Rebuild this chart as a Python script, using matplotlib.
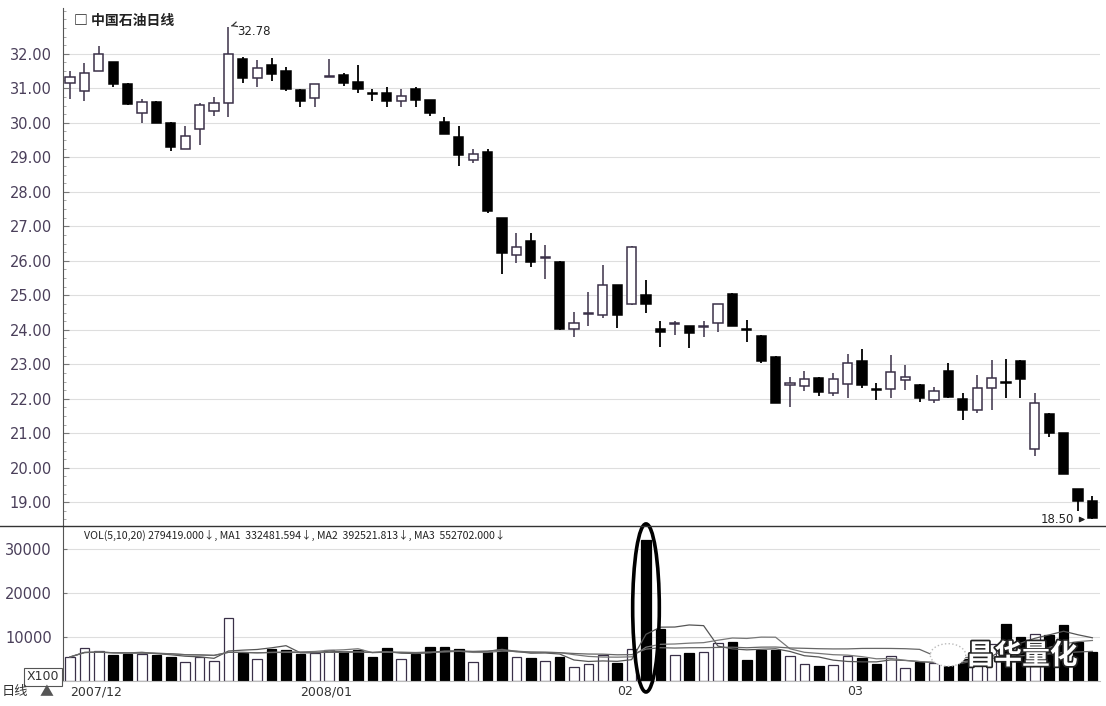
import matplotlib
matplotlib.use('Agg')
import matplotlib.pyplot as plt
import matplotlib.patheffects as pe
from matplotlib.patches import Ellipse, Circle
from matplotlib.lines import Line2D
import numpy as np
import pandas as pd

# daily candles, 2007/12 .. 2008/03
opens = [31.15, 30.92, 31.51, 31.75, 31.14, 30.30, 30.61, 30.01, 29.25, 29.81,
         30.35, 30.58, 31.84, 31.29, 31.67, 31.51, 30.95, 30.71, 31.33, 31.38,
         31.19, 30.87, 30.86, 30.64, 30.97, 30.66, 30.03, 29.58, 28.92, 29.16,
         27.23, 26.17, 26.58, 26.09, 25.97, 24.02, 24.47, 24.43, 25.30, 24.74,
         25.00, 24.01, 24.16, 24.11, 24.08, 24.21, 25.04, 24.03, 23.82, 23.20,
         22.40, 22.37, 22.61, 22.18, 22.42, 23.10, 22.28, 22.29, 22.53, 22.40,
         21.97, 22.81, 22.00, 21.68, 22.31, 22.50, 23.10, 20.55, 21.56, 21.00,
         19.37, 19.03]
highs = [31.50, 31.74, 32.23, 31.76, 31.15, 30.68, 30.62, 30.02, 29.91, 30.58,
         30.76, 32.78, 31.92, 31.82, 31.87, 31.63, 30.97, 31.13, 31.84, 31.44,
         31.67, 30.97, 31.03, 30.97, 31.05, 30.67, 30.18, 29.91, 29.24, 29.23,
         27.24, 26.81, 26.81, 26.45, 25.98, 24.52, 25.10, 25.88, 25.31, 26.42,
         25.44, 24.26, 24.26, 24.12, 24.26, 24.76, 25.08, 24.28, 23.85, 23.25,
         22.64, 22.81, 22.63, 22.74, 23.30, 23.44, 22.47, 23.27, 22.98, 22.42,
         22.35, 23.05, 22.16, 22.69, 23.12, 23.14, 23.12, 22.18, 21.58, 21.01,
         19.38, 19.17]
lows = [30.70, 30.64, 31.50, 31.05, 30.53, 30.00, 30.00, 29.19, 29.24, 29.36,
        30.20, 30.18, 31.16, 31.05, 31.21, 30.93, 30.47, 30.45, 31.33, 31.07,
        30.86, 30.62, 30.47, 30.47, 30.45, 30.20, 29.67, 28.75, 28.83, 27.38,
        25.62, 25.94, 25.83, 25.48, 24.00, 23.80, 24.11, 24.33, 24.04, 24.73,
        24.50, 23.49, 23.85, 23.46, 23.78, 23.95, 24.10, 23.66, 23.05, 21.88,
        21.77, 22.23, 22.09, 22.09, 22.02, 22.32, 21.95, 22.02, 22.26, 21.92,
        21.87, 22.03, 21.37, 21.60, 21.68, 22.02, 22.02, 20.35, 20.89, 19.82,
        18.74, 18.50]
closes = [31.34, 31.45, 31.99, 31.14, 30.54, 30.61, 30.01, 29.29, 29.62, 30.52,
          30.57, 31.99, 31.29, 31.58, 31.41, 30.97, 30.64, 31.12, 31.35, 31.15,
          30.97, 30.85, 30.62, 30.79, 30.66, 30.29, 29.68, 29.07, 29.10, 27.45,
          26.22, 26.41, 25.97, 26.11, 24.02, 24.21, 24.50, 25.30, 24.43, 26.41,
          24.75, 23.94, 24.20, 23.90, 24.10, 24.75, 24.11, 24.00, 23.10, 21.89,
          22.47, 22.56, 22.21, 22.57, 23.05, 22.40, 22.25, 22.77, 22.64, 22.02,
          22.23, 22.04, 21.68, 22.32, 22.60, 22.46, 22.57, 21.89, 21.02, 19.83,
          19.03, 18.55]
volumes = [5450, 7500, 6740, 5980, 6210, 6210, 5980, 5450, 4320, 5450,
           4550, 14300, 6440, 5080, 7350, 6970, 6210, 6440, 6970, 6590,
           6970, 5450, 7500, 5080, 6210, 7730, 7730, 7350, 4320, 6590,
           10000, 5450, 5230, 4550, 5450, 3180, 3790, 5830, 4090, 7350,
           32000, 11900, 5980, 6440, 6590, 8710, 8790, 4850, 7120, 7120,
           5680, 3940, 3410, 3560, 5610, 5230, 3940, 5600, 2950, 4320,
           4000, 3940, 5080, 6500, 8500, 12900, 10000, 10600, 10400, 12650,
           8860, 6600]

month_idx = [0, 16, 38, 54]
month_labels = ['2007/12', '2008/01', '02', '03']
price_ticks = [19, 20, 21, 22, 23, 24, 25, 26, 27, 28, 29, 30, 31, 32]
vol_ticks = [10000, 20000, 30000]
title = '中国石油日线'
vol_header = ('VOL(5,10,20) 279419.000\u2193, MA1  332481.594\u2193, '
              'MA2  392521.813\u2193, MA3  552702.000\u2193')
watermark = '昌华量化'

CJK = ['Noto Sans CJK SC', 'DejaVu Sans']
LBL = '#4a3f5a'
UPEDGE = '#3a3048'

df = pd.DataFrame({'open': opens, 'high': highs, 'low': lows,
                   'close': closes, 'vol': volumes})
x = np.arange(len(df))
up = (df['close'] >= df['open']).values

W, H = 1106, 706
fig = plt.figure(figsize=(W / 100, H / 100), dpi=100)
ax = fig.add_axes([63 / W, 1 - 525 / H, 1037 / W, 517 / H])
axv = fig.add_axes([63 / W, 1 - 681 / H, 1037 / W, 156 / H])

xlim = ((63 - 70) / 14.4, (1100 - 70) / 14.4)

# ---- price panel
ax.set_xlim(*xlim)
ax.set_ylim(18.34, 33.33)
for p in price_ticks:
    ax.axhline(p, color='#dedede', lw=0.8, zorder=0)

body_lo = np.minimum(df['open'], df['close'])
body_h = np.maximum(np.abs(df['close'] - df['open']), 0.025)
ax.vlines(x[up], df['low'][up], df['high'][up], color=UPEDGE, lw=1.1, zorder=1)
ax.vlines(x[~up], df['low'][~up], df['high'][~up], color='black', lw=1.3, zorder=1)
ax.bar(x[up], body_h[up], bottom=body_lo[up], width=0.64,
       facecolor='white', edgecolor=UPEDGE, lw=1.1, zorder=2)
ax.bar(x[~up], body_h[~up], bottom=body_lo[~up], width=0.64,
       facecolor='black', edgecolor='black', lw=1.1, zorder=2)

ax.set_yticks(price_ticks)
ax.set_yticklabels([f'{p:.2f}' for p in price_ticks], color=LBL, fontsize=10.5)
ax.set_yticks(np.arange(18.5, 33.3, 0.25), minor=True)
ax.tick_params(axis='y', which='major', direction='in', length=4, color='#777777', pad=8)
ax.tick_params(axis='y', which='minor', direction='in', length=2, color='#999999')
ax.set_xticks([])
for s in ['top', 'right', 'bottom']:
    ax.spines[s].set_visible(False)
ax.spines['left'].set_color('#555555')

ax.text(0.3, 32.95, '\u25a1 ' + title, family=CJK, fontsize=10,
        fontweight='bold', color='#222222', va='center', ha='left')

hi = int(np.argmax(df['high']))
ax.annotate(f"{df['high'][hi]:.2f}", xy=(hi, df['high'][hi]),
            xytext=(hi + 0.6, df['high'][hi] - 0.12), fontsize=8.5,
            color='#222222', va='center', ha='left',
            arrowprops=dict(arrowstyle='->', color='#333333', lw=0.9,
                            connectionstyle='arc3,rad=0.3'))
lo = int(np.argmin(df['low']))
ax.annotate(f"{df['low'][lo]:.2f}", xy=(lo - 0.3, df['low'][lo]),
            xytext=(lo - 3.6, df['low'][lo]), fontsize=8.5,
            color='#222222', va='center', ha='left',
            arrowprops=dict(arrowstyle='-|>', color='#222222', lw=0.9,
                            mutation_scale=8))

# ---- volume panel
axv.set_xlim(*xlim)
axv.set_ylim(0, 35450)
for v in vol_ticks:
    axv.axhline(v, color='#dedede', lw=0.8, zorder=0)
axv.bar(x[up], df['vol'][up], width=0.68, facecolor='white',
        edgecolor=UPEDGE, lw=0.9, zorder=2)
axv.bar(x[~up], df['vol'][~up], width=0.68, facecolor='black',
        edgecolor='black', lw=0.9, zorder=2)
for n, c in [(5, '#555555'), (10, '#777777'), (20, '#666666')]:
    ma = df['vol'].rolling(n, min_periods=1).mean()
    axv.plot(x, ma, color=c, lw=0.9, zorder=3)

axv.set_yticks(vol_ticks)
axv.set_yticklabels([str(v) for v in vol_ticks], color=LBL, fontsize=10.5)
axv.tick_params(axis='y', direction='in', length=3, color='#777777', pad=8)
axv.set_xticks(month_idx)
axv.set_xticklabels(month_labels, fontsize=9, color='#333333', ha='left')
axv.tick_params(axis='x', direction='in', length=3, color='#999999', pad=3)
for s in ['top', 'right']:
    axv.spines[s].set_visible(False)
axv.spines['left'].set_color('#555555')
axv.spines['bottom'].set_color('#bbbbbb')

axv.text(0.02, 0.97, vol_header, transform=axv.transAxes, fontsize=7.6,
         color='#222222', va='top', ha='left', family=CJK)

peak = int(np.argmax(df['vol']))
axv.add_patch(Ellipse((peak, 16600), 1.85, 38200, fill=False,
                      edgecolor='black', lw=2.6, clip_on=False, zorder=5))

# watermark (icon + name) over the right end of the volume bars
fig.add_artist(Circle((948 / W, 1 - 655 / H), 0.016, transform=fig.transFigure,
                      facecolor='white', edgecolor='#bbbbbb', lw=1.0,
                      linestyle=':', zorder=6))
fig.text(1022 / W, 1 - 656 / H, watermark, family=CJK, fontsize=20,
         color='white', ha='center', va='center', fontweight='bold', zorder=7,
         path_effects=[pe.withStroke(linewidth=2.5, foreground='#222222')])

# separator across the whole width
fig.add_artist(Line2D([0.0, 1.0], [1 - 526 / H] * 2, color='#333333', lw=1.0))

fig.text(43 / W, 1 - 677 / H, 'X100', fontsize=9, color='#333333',
         ha='center', va='center',
         bbox=dict(boxstyle='square,pad=0.2', facecolor='white',
                   edgecolor='#555555', lw=0.8))
fig.text(2 / W, 1 - 692 / H, '日线', family=CJK, fontsize=9.5,
         color='#333333', ha='left', va='center')
fig.text(40 / W, 1 - 692 / H, '\u25b2', family=CJK, fontsize=10,
         color='#555555', ha='left', va='center')

fig.savefig('out.png', dpi=100, facecolor='white')
